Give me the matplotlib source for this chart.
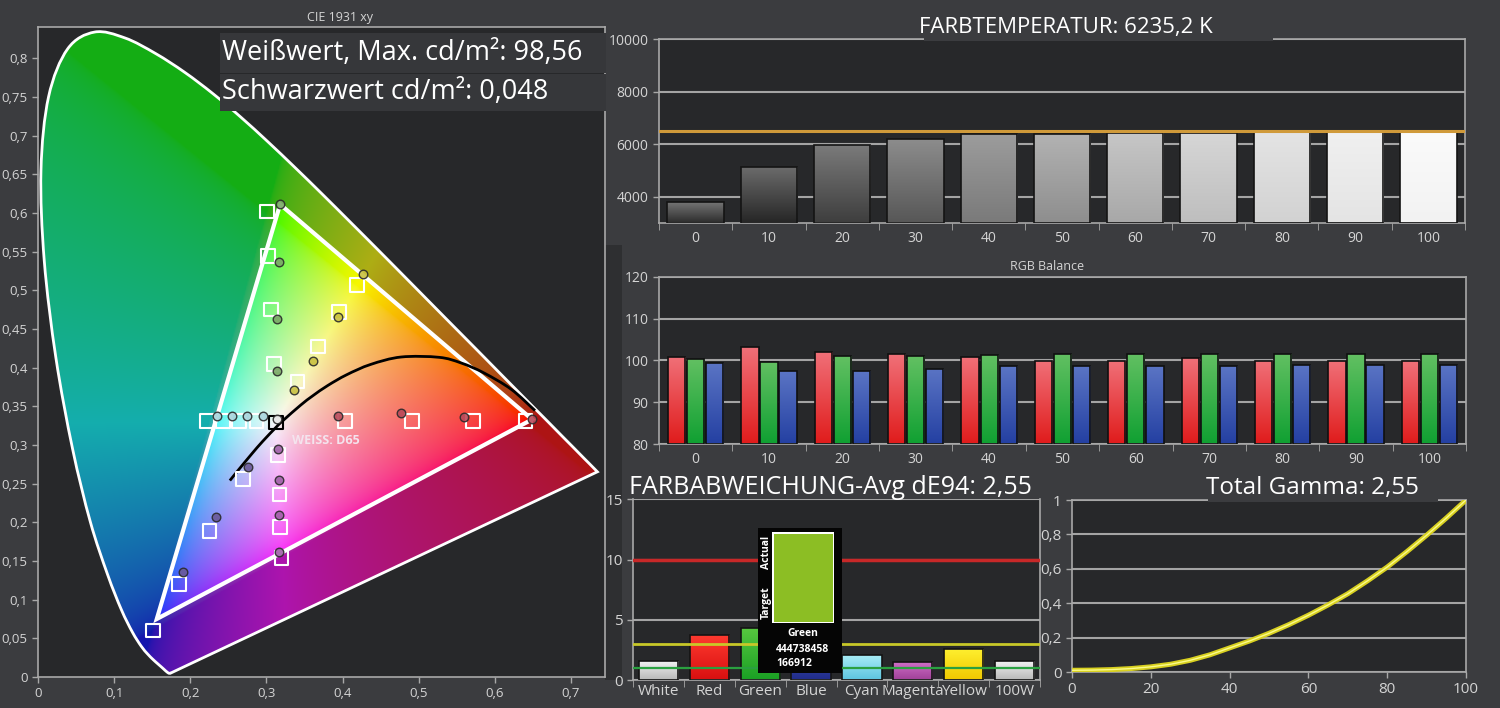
import numpy as np
import matplotlib.pyplot as plt
from matplotlib.path import Path
from matplotlib.patches import Polygon, Rectangle, PathPatch
from matplotlib.ticker import FuncFormatter

# ---- data ----
# CIE 1931 spectral locus (x, y), 380..700 nm in 5 nm steps
locus_x = [0.1741, 0.1740, 0.1738, 0.1736, 0.1733, 0.1730, 0.1726, 0.1721, 0.1714, 0.1703,
           0.1689, 0.1669, 0.1644, 0.1611, 0.1566, 0.1510, 0.1440, 0.1355, 0.1241, 0.1096,
           0.0913, 0.0687, 0.0454, 0.0235, 0.0082, 0.0039, 0.0139, 0.0389, 0.0743, 0.1142,
           0.1547, 0.1929, 0.2296, 0.2658, 0.3016, 0.3373, 0.3731, 0.4087, 0.4441, 0.4788,
           0.5125, 0.5448, 0.5752, 0.6029, 0.6270, 0.6482, 0.6658, 0.6801, 0.6915, 0.7006,
           0.7079, 0.7140, 0.7190, 0.7230, 0.7260, 0.7283, 0.7300, 0.7311, 0.7320, 0.7327,
           0.7334, 0.7340, 0.7344, 0.7346, 0.7347]
locus_y = [0.0050, 0.0050, 0.0049, 0.0049, 0.0048, 0.0048, 0.0048, 0.0048, 0.0051, 0.0058,
           0.0069, 0.0086, 0.0109, 0.0138, 0.0177, 0.0227, 0.0297, 0.0399, 0.0578, 0.0868,
           0.1327, 0.2007, 0.2950, 0.4127, 0.5384, 0.6548, 0.7502, 0.8120, 0.8338, 0.8262,
           0.8059, 0.7816, 0.7543, 0.7243, 0.6923, 0.6589, 0.6245, 0.5896, 0.5547, 0.5202,
           0.4866, 0.4544, 0.4242, 0.3965, 0.3725, 0.3514, 0.3340, 0.3197, 0.3083, 0.2993,
           0.2920, 0.2859, 0.2809, 0.2770, 0.2740, 0.2717, 0.2700, 0.2689, 0.2680, 0.2673,
           0.2666, 0.2660, 0.2656, 0.2654, 0.2653]

# black body curve
planck_x = [0.2520, 0.2637, 0.2807, 0.2952, 0.3135, 0.3221, 0.3451, 0.3608, 0.3805, 0.4053,
            0.4369, 0.4770, 0.5267, 0.5557, 0.5857, 0.6216, 0.6528]
planck_y = [0.2540, 0.2682, 0.2884, 0.3048, 0.3237, 0.3318, 0.3516, 0.3635, 0.3768, 0.3907,
            0.4041, 0.4137, 0.4133, 0.4060, 0.3931, 0.3719, 0.3444]

# measured gamut triangle (G, R, B)
gamut_x = [0.318, 0.649, 0.156]
gamut_y = [0.611, 0.333, 0.075]

# target points (squares), per colour sweep
tgt_white = ([0.3127], [0.329])
tgt_red = ([0.403, 0.491, 0.571, 0.640], [0.331, 0.331, 0.331, 0.331])
tgt_green = ([0.301, 0.302, 0.306, 0.310], [0.602, 0.544, 0.475, 0.405])
tgt_blue = ([0.151, 0.185, 0.225, 0.269], [0.060, 0.120, 0.189, 0.256])
tgt_cyan = ([0.222, 0.243, 0.264, 0.287], [0.331, 0.331, 0.331, 0.331])
tgt_yellow = ([0.419, 0.395, 0.368, 0.341], [0.507, 0.472, 0.427, 0.382])
tgt_magenta = ([0.320, 0.318, 0.317, 0.315], [0.154, 0.194, 0.236, 0.287])

# measured points (circles)
meas_white = ([0.314], [0.333])
meas_red = ([0.394, 0.477, 0.559, 0.649], [0.337, 0.341, 0.336, 0.333])
meas_green = ([0.318, 0.317, 0.314, 0.314], [0.611, 0.537, 0.463, 0.396])
meas_blue = ([0.190, 0.234, 0.276], [0.136, 0.207, 0.272])
meas_cyan = ([0.235, 0.255, 0.274, 0.296], [0.337, 0.337, 0.337, 0.337])
meas_yellow = ([0.427, 0.394, 0.361, 0.336], [0.521, 0.466, 0.409, 0.371])
meas_magenta = ([0.317, 0.317, 0.317, 0.315], [0.161, 0.210, 0.255, 0.295])

steps = ['0', '10', '20', '30', '40', '50', '60', '70', '80', '90', '100']
cct = [3785, 5140, 5965, 6190, 6380, 6380, 6420, 6420, 6470, 6470, 6470]
cct_target = 6500

rgb_r = [100.9, 103.1, 102.0, 101.4, 100.9, 99.9, 99.9, 100.5, 99.9, 99.9, 99.8]
rgb_g = [100.4, 99.7, 101.0, 101.0, 101.3, 101.6, 101.6, 101.6, 101.6, 101.4, 101.6]
rgb_b = [99.3, 97.4, 97.4, 98.0, 98.6, 98.6, 98.6, 98.6, 98.9, 98.9, 98.9]

de_names = ['White', 'Red', 'Green', 'Blue', 'Cyan', 'Magenta', 'Yellow', '100W']
de_vals = [1.6, 3.75, 4.35, 2.0, 2.05, 1.5, 2.6, 1.6]

gamma_x = [0, 5, 10, 15, 20, 25, 30, 35, 40, 45, 50, 55, 60, 65, 70, 75, 80, 85, 90, 95, 100]
gamma_y = [0.010, 0.011, 0.014, 0.020, 0.030, 0.045, 0.068, 0.100, 0.140, 0.180, 0.225,
           0.275, 0.330, 0.390, 0.455, 0.530, 0.610, 0.700, 0.795, 0.895, 1.000]

# ---- styling ----
W, H = 1500, 708
BG = '#3b3c3f'
PLOT_BG = '#27282a'
TXT = '#d4d4d4'
SPINE = '#a8a8a8'
plt.rcParams['font.family'] = ['Open Sans', 'DejaVu Sans']

fig = plt.figure(figsize=(15, 7.08), dpi=100, facecolor=BG)


def box(x0, y0, x1, y1):
    return [x0 / W, 1 - y1 / H, (x1 - x0) / W, (y1 - y0) / H]


def fig_rect(x0, y0, x1, y1, color, z=0):
    fig.patches.append(Rectangle((x0 / W, 1 - y1 / H), (x1 - x0) / W, (y1 - y0) / H,
                                 transform=fig.transFigure, facecolor=color,
                                 edgecolor='none', zorder=z))


def fig_text(px, py, s, **kw):
    fig.text(px / W, 1 - py / H, s, **kw)


comma = FuncFormatter(lambda v, p: ('%g' % round(v, 3)).replace('.', ','))


def style(ax, size=10):
    ax.set_facecolor(PLOT_BG)
    for s in ax.spines.values():
        s.set_color(SPINE)
        s.set_linewidth(1.2)
    ax.tick_params(colors=SPINE, labelcolor=TXT, labelsize=size, length=4, width=1)


def cat_ticks(ax, labels, size=10):
    n = len(labels)
    ax.set_xlim(-0.5, n - 0.5)
    ax.set_xticks(np.arange(n))
    ax.set_xticklabels(labels)
    ax.set_xticks(np.arange(n + 1) - 0.5, minor=True)
    ax.tick_params(axis='x', which='major', length=0, pad=6, labelsize=size)
    ax.tick_params(axis='x', which='minor', length=5, colors=SPINE)


def gradient(ax, bars, tops, bots, ybottom):
    for b, ct, cb in zip(bars, tops, bots):
        x0 = b.get_x()
        w = b.get_width()
        y1 = b.get_y() + b.get_height()
        t = np.linspace(0, 1, 64)[:, None, None]
        c0 = np.array(plt.matplotlib.colors.to_rgb(cb))
        c1 = np.array(plt.matplotlib.colors.to_rgb(ct))
        img = c0 * (1 - t) + c1 * t
        im = ax.imshow(img, extent=[x0, x0 + w, ybottom, y1], origin='lower',
                       aspect='auto', zorder=2.5, interpolation='bilinear')
        im.set_clip_path(b)


def smooth(xs, ys):
    # Catmull-Rom curve through the points, as Bezier segments
    P = np.c_[xs, ys]
    Q = np.vstack([P[0], P, P[-1]])
    verts = [P[0]]
    codes = [Path.MOVETO]
    for i in range(len(P) - 1):
        p0, p1, p2, p3 = Q[i], Q[i + 1], Q[i + 2], Q[i + 3]
        verts += [p1 + (p2 - p0) / 6, p2 - (p3 - p1) / 6, p2]
        codes += [Path.CURVE4] * 3
    return verts, codes


# side panel strip
fig_rect(605, 245, 622, 680, '#2e2f31', z=-1)

# ================= CIE =================
ax = fig.add_axes(box(38, 26.5, 605, 677))
style(ax, 9.5)
gx, gy = np.meshgrid(np.linspace(0, 0.75, 450), np.linspace(0, 0.85, 520))
gyc = np.maximum(gy, 1e-3)
XYZ = np.stack([gx / gyc, np.ones_like(gx), (1 - gx - gy) / gyc], -1)
M = np.array([[3.2406, -1.5372, -0.4986], [-0.9689, 1.8758, 0.0415], [0.0557, -0.2040, 1.0570]])
rgb = np.clip(XYZ @ M.T, 0, None)
rgb /= np.maximum(rgb.max(-1, keepdims=True), 1e-6)
rgb = rgb ** (1 / 2.2)
tri = np.c_[gamut_x, gamut_y]
inside = Path(tri).contains_points(np.c_[gx.ravel(), gy.ravel()]).reshape(gx.shape)
rgb = np.where(inside[..., None], rgb * 0.97, rgb * 0.6 + 0.08)
im = ax.imshow(rgb, extent=[0, 0.75, 0, 0.85], origin='lower', aspect='auto',
               interpolation='bilinear', zorder=1)
lv, lc = smooth(locus_x, locus_y)
lv += [lv[0], lv[0]]
lc += [Path.LINETO, Path.CLOSEPOLY]
locus = PathPatch(Path(lv, lc), facecolor='none', edgecolor='white', lw=2, zorder=3)
ax.add_patch(locus)
im.set_clip_path(locus)
ax.add_patch(Polygon(tri, closed=True, fill=False, edgecolor='white', lw=3, zorder=4))
pv, pc = smooth(planck_x, planck_y)
ax.add_patch(PathPatch(Path(pv, pc), fill=False, edgecolor='black', lw=2, zorder=5))

sweeps = [
    (tgt_white, meas_white, 'black', '#e8e8e8'),
    (tgt_red, meas_red, 'white', '#b84a5a'),
    (tgt_green, meas_green, 'white', '#7aa866'),
    (tgt_blue, meas_blue, 'white', '#6a5a98'),
    (tgt_cyan, meas_cyan, 'white', '#a8d4dc'),
    (tgt_yellow, meas_yellow, 'white', '#c8c040'),
    (tgt_magenta, meas_magenta, 'white', '#a060a8'),
]
for tgt, meas, edge, fill in sweeps:
    ax.scatter(tgt[0], tgt[1], marker='s', s=95, facecolors='none', edgecolors=edge,
               linewidths=1.5, zorder=6)
    ax.scatter(meas[0], meas[1], marker='o', s=38, facecolors=fill, edgecolors='#2a2a2a',
               linewidths=1, zorder=7, alpha=0.9)

ax.text(0.334, 0.306, 'WEISS: D65', color='#f4e4ee', fontsize=9, fontweight='bold',
        va='center', ha='left', zorder=8)
ax.set_xlim(0, 0.7447)
ax.set_ylim(0.0039, 0.841)
ax.set_xticks(np.arange(0, 0.71, 0.1))
ax.set_yticks(np.arange(0, 0.81, 0.05))
ax.xaxis.set_major_formatter(comma)
ax.yaxis.set_major_formatter(comma)
fig_text(340, 17, 'CIE 1931 xy', color=TXT, fontsize=9, ha='center', va='center')

# value box
fig_rect(220, 33, 606, 73, '#36373a', z=5)
fig_rect(220, 74, 606, 111, '#36373a', z=5)
fig_text(222, 53, 'Weißwert, Max. cd/m²: 98,56', color='white', fontsize=19.5,
         va='center', ha='left', zorder=6)
fig_text(222, 92, 'Schwarzwert cd/m²: 0,048', color='white', fontsize=19.5,
         va='center', ha='left', zorder=6)

# ================= FARBTEMPERATUR =================
ax2 = fig.add_axes(box(659, 39.3, 1465, 223))
style(ax2)
x = np.arange(len(steps))
cct_tops = ['#747474', '#6c6c6c', '#7a7a7a', '#8c8c8c', '#9c9c9c', '#b2b2b2',
            '#c6c6c6', '#d6d6d6', '#e4e4e4', '#f0f0f0', '#fbfbfb']
cct_bots = ['#2c2c2c', '#262626', '#3e3e3e', '#575757', '#7a7a7a', '#8e8e8e',
            '#a8a8a8', '#bebebe', '#d2d2d2', '#e4e4e4', '#f2f2f2']
b2 = ax2.bar(x, np.array(cct) - 3000, bottom=3000, width=0.77, color=cct_bots,
             edgecolor='none', zorder=2)
gradient(ax2, b2, cct_tops, cct_bots, 3000)
ax2.bar(x, np.array(cct) - 3000, bottom=3000, width=0.77, fill=False,
        edgecolor='#141414', lw=1.2, zorder=3)
ax2.axhline(cct_target, color='#d09a3a', lw=2.2, zorder=4)
ax2.set_ylim(3000, 10000)
ax2.set_yticks([4000, 6000, 8000, 10000])
ax2.yaxis.grid(True, color='#a4a4a4', lw=1.5)
ax2.set_axisbelow(True)
cat_ticks(ax2, steps)
fig_rect(924, 12, 1273, 41, BG, z=5)
fig_text(1066, 27, 'FARBTEMPERATUR: 6235,2 K', color='white', fontsize=16,
         ha='center', va='center', zorder=6)

# ================= RGB Balance =================
ax3 = fig.add_axes(box(659, 276.7, 1466, 444))
style(ax3)
bw = 0.235
br = ax3.bar(x - 0.26, np.array(rgb_r) - 80, bottom=80, width=bw, color='#e02828',
             edgecolor='none', zorder=2)
bg = ax3.bar(x, np.array(rgb_g) - 80, bottom=80, width=bw, color='#18a035',
             edgecolor='none', zorder=2)
bb = ax3.bar(x + 0.26, np.array(rgb_b) - 80, bottom=80, width=bw, color='#2a48a8',
             edgecolor='none', zorder=2)
gradient(ax3, br, ['#f07078'] * 11, ['#e01c1c'] * 11, 80)
gradient(ax3, bg, ['#62c062'] * 11, ['#10a032'] * 11, 80)
gradient(ax3, bb, ['#5a74c4'] * 11, ['#2440a2'] * 11, 80)
for off, vals in ((-0.26, rgb_r), (0, rgb_g), (0.26, rgb_b)):
    ax3.bar(x + off, np.array(vals) - 80, bottom=80, width=bw, fill=False,
            edgecolor='#101010', lw=1.2, zorder=3)
ax3.set_ylim(80, 120)
ax3.set_yticks([80, 90, 100, 110, 120])
ax3.yaxis.grid(True, color='#a4a4a4', lw=1.5)
ax3.set_axisbelow(True)
cat_ticks(ax3, steps)
fig_text(1047, 266, 'RGB Balance', color=TXT, fontsize=9, ha='center', va='center')

# ================= FARBABWEICHUNG =================
ax4 = fig.add_axes(box(633, 499.3, 1040, 680))
style(ax4, 11)
ax4.spines['top'].set_visible(False)
xd = np.arange(len(de_names))
de_tops = ['#f4f4f4', '#ff3a30', '#58c840', '#3848a8', '#a8ecf6', '#d070c8', '#fff030', '#f4f4f4']
de_bots = ['#b8b8b8', '#d81010', '#1aa024', '#202c8a', '#5cc4e0', '#a04098', '#f0c800', '#b8b8b8']
b4 = ax4.bar(xd, de_vals, width=0.77, color=de_bots, edgecolor='none', zorder=2)
gradient(ax4, b4, de_tops, de_bots, 0)
ax4.bar(xd, de_vals, width=0.77, fill=False, edgecolor='#141414', lw=1.2, zorder=3)
ax4.axhline(10, color='#c82828', lw=2.5, zorder=4)
ax4.axhline(3, color='#c8c828', lw=2, zorder=4)
ax4.axhline(1, color='#2aa040', lw=1.6, zorder=4)
ax4.set_ylim(0, 15)
ax4.set_yticks([0, 5, 10, 15])
ax4.yaxis.grid(True, color='#a4a4a4', lw=1.5)
ax4.set_axisbelow(True)
cat_ticks(ax4, de_names, 11)
ax4.tick_params(axis='x', which='major', pad=3)
fig_text(830, 487, 'FARBABWEICHUNG-Avg dE94: 2,55', color='white', fontsize=18,
         ha='center', va='center')

# tooltip
fig_rect(758, 528, 842, 673, '#050505', z=10)
fig_rect(772, 532, 834, 623, 'white', z=11)
fig_rect(773.5, 533.5, 832.5, 621.5, '#8cbe24', z=12)
fig_text(766, 552, 'Actual', color='white', fontsize=7.5, fontweight='bold', rotation=90,
         ha='center', va='center', zorder=13)
fig_text(766, 603, 'Target', color='white', fontsize=7.5, fontweight='bold', rotation=90,
         ha='center', va='center', zorder=13)
fig_text(803, 633, 'Green', color='white', fontsize=7.5, fontweight='bold',
         ha='center', va='center', zorder=13)
fig_text(776, 650, '444738458', color='white', fontsize=7.5, fontweight='bold',
         ha='left', va='center', zorder=13)
fig_text(776, 663, '166912', color='white', fontsize=7.5, fontweight='bold',
         ha='left', va='center', zorder=13)

# ================= Gamma =================
ax5 = fig.add_axes(box(1072, 500, 1466, 672))
style(ax5, 11)
ax5.plot(gamma_x, gamma_y, color='#d8d020', lw=3.6, zorder=3, solid_capstyle='round')
ax5.plot(gamma_x, gamma_y, color='#fbfb8a', lw=1.0, zorder=4)
ax5.set_xlim(0, 100)
ax5.set_ylim(0, 1)
ax5.set_xticks([0, 20, 40, 60, 80, 100])
ax5.set_yticks([0, 0.2, 0.4, 0.6, 0.8, 1])
ax5.yaxis.set_major_formatter(comma)
ax5.yaxis.grid(True, color='#a4a4a4', lw=1.5)
ax5.set_axisbelow(True)
ax5.tick_params(axis='x', pad=3)
fig_rect(1208, 474, 1438, 502, BG, z=5)
fig_text(1312, 488, 'Total Gamma: 2,55', color='white', fontsize=17.5,
         ha='center', va='center', zorder=6)

fig.savefig('out.png', dpi=100, facecolor=BG)
